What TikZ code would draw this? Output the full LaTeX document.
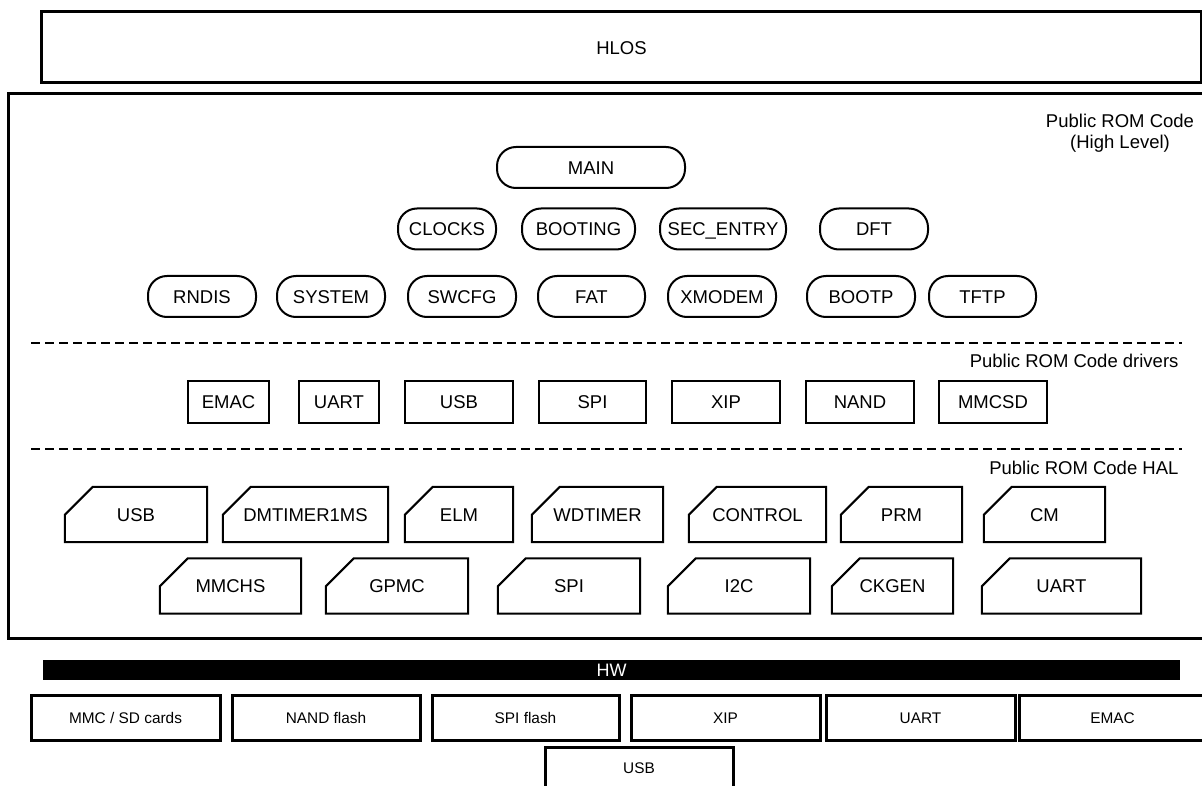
\documentclass[tikz,border=0pt]{standalone}
\usepackage{fontspec}
\setmainfont{Liberation Sans}
\usepackage{tikz}

\tikzset{
  boxtext/.style={text height=13.3pt,text depth=0pt},
  layer/.style={draw,line width=3pt,inner sep=0pt,boxtext},
  pill/.style={draw,line width=2pt,rounded corners=19pt,minimum height=41pt,inner sep=0pt,boxtext},
  drvbox/.style={draw,line width=2pt,minimum height=42pt,inner sep=0pt,boxtext},
  halbox/.style={minimum height=55pt,inner sep=0pt,boxtext},
  hwbox/.style={draw,line width=3pt,minimum height=45pt,inner sep=0pt,text height=11pt,text depth=0pt,
    font=\fontsize{15.4}{18}\selectfont},
  sep/.style={line width=2pt,dash pattern=on 9pt off 5pt},
}

\begin{document}
\begin{tikzpicture}[x=1pt,y=-1pt,font=\fontsize{18.5}{21}\selectfont]
  \useasboundingbox (0,0) rectangle (1202,786);
  \clip (0,0) rectangle (1202,786);

  % layers
  \node[layer,minimum width=1160pt,minimum height=71pt] (hlos) at (621.5,47.5) {HLOS};
  \node[layer,minimum width=1198pt,minimum height=544pt] (rom) at (607,366) {};
  \node[align=center] (hltitle) at (1120,133) {Public ROM Code\\(High Level)};

  % high level
  \node[pill,minimum width=188pt] (main) at (591,167.5) {MAIN};
  \foreach \n/\t/\cx/\w in {clocks/CLOCKS/447/98,booting/BOOTING/578.5/113,
      secentry/SEC\_ENTRY/723/126,dft/DFT/874/108}
    \node[pill,minimum width=\w pt] (\n) at (\cx,229) {\t};
  \foreach \n/\t/\cx/\w in {rndis/RNDIS/202/108,system/SYSTEM/331/108,swcfg/SWCFG/462/108,
      fat/FAT/591.5/107,xmodem/XMODEM/722/108,bootp/BOOTP/861/108,tftp/TFTP/982.5/107}
    \node[pill,minimum width=\w pt] (\n) at (\cx,296.5) {\t};

  % drivers
  \draw[sep] (31,343) -- (1182,343);
  \node[anchor=east] (drvtitle) at (1182,361) {Public ROM Code drivers};
  \foreach \n/\t/\cx/\w in {demac/EMAC/228.5/81,duart/UART/339/80,dusb/USB/459/108,
      dspi/SPI/592.5/107,dxip/XIP/726/108,dnand/NAND/860/108,dmmcsd/MMCSD/993/108}
    \node[drvbox,minimum width=\w pt] (\n) at (\cx,402) {\t};

  % HAL
  \draw[sep] (31,449) -- (1182,449);
  \node[anchor=east] (haltitle) at (1182,468) {Public ROM Code HAL};
  \foreach \n/\t/\cx/\w in {husb/USB/136/142,hdmt/DMTIMER1MS/305.5/165,helm/ELM/459/108,
      hwdt/WDTIMER/597.5/131,hctrl/CONTROL/757.5/137,hprm/PRM/901.5/121,hcm/CM/1044.5/121}
    \node[halbox,minimum width=\w pt] (\n) at (\cx,514.5) {\t};
  \foreach \n/\t/\cx/\w in {hmmc/MMCHS/230.5/141,hgpmc/GPMC/397/142,hspi/SPI/569/142,
      hitwoc/I2C/739/142,hckgen/CKGEN/892.5/121,huart/UART/1061.5/159}
    \node[halbox,minimum width=\w pt] (\n) at (\cx,586) {\t};
  \foreach \n in {husb,hdmt,helm,hwdt,hctrl,hprm,hcm,hmmc,hgpmc,hspi,hitwoc,hckgen,huart}
    \draw[line width=2pt] ([yshift=-28pt]\n.north west) -- ([xshift=28pt]\n.north west)
      -- (\n.north east) -- (\n.south east) -- (\n.south west) -- cycle;

  % hardware
  \node[fill=black,text=white,minimum width=1137pt,minimum height=20pt,inner sep=0pt,
    text height=12.9pt,text depth=0pt,font=\fontsize{18}{20}\selectfont] (hw) at (611.5,670) {HW};
  \foreach \n/\t/\cx/\w in {hmmcsd/{MMC / SD cards}/125.5/189,hnand/NAND flash/326/188,
      hspifl/SPI flash/525.5/187,hxip/XIP/725.5/189,hwuart/UART/920.5/189,hemac/EMAC/1112.5/187}
    \node[hwbox,minimum width=\w pt] (\n) at (\cx,717.5) {\t};
  \node[hwbox,minimum width=188pt,minimum height=42pt] (hwusb) at (639,768) {USB};
\end{tikzpicture}
\end{document}
